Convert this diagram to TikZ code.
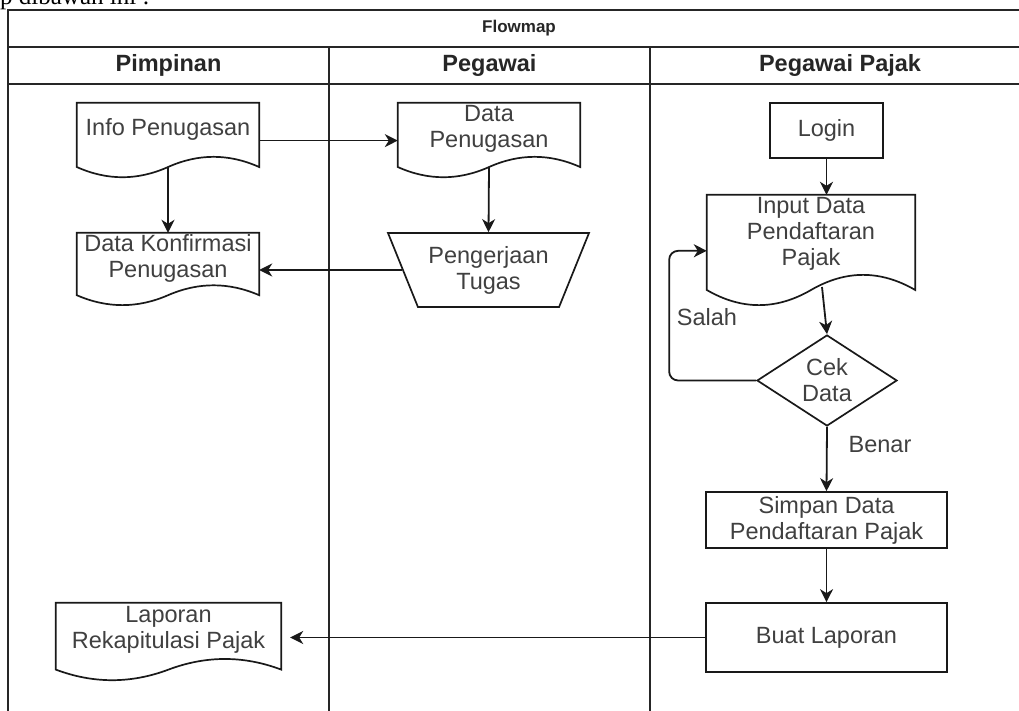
\documentclass[tikz,border=0pt]{standalone}
\usepackage{fontspec}
\setmainfont{Liberation Sans}
\newfontfamily\cutserif{Liberation Serif}
\usetikzlibrary{arrows.meta,shapes.geometric,calc}

% wavy document outline round a named node, plus three helper coordinates
\newcommand{\docwave}[1]{%
  \draw[outline] let \p1=(#1.north west), \p2=(#1.south east),
      \n1={(\y1-\y2)*3/7}, \n2={\x2-\x1} in
    (\x1,\y1) -- (\x2,\y1) -- (\x2,\y2-0.5*\n1)
    .. controls (\x1+5*\n2/6,\y2+0.1*\n1) and (\x1+2*\n2/3,\y2+0.1*\n1)
    .. (\x1+0.5*\n2,\y2-0.5*\n1) coordinate (#1-bot)
    .. controls (\x1+\n2/3,\y2-1.1*\n1) and (\x1+\n2/6,\y2-1.1*\n1)
    .. (\x1,\y2-0.5*\n1) -- cycle
    (\x2,{0.5*(\y1+\y2)-0.5*\n1}) coordinate (#1-e)
    (\x1,{0.5*(\y1+\y2)-0.5*\n1}) coordinate (#1-w);}

\begin{document}
\begin{tikzpicture}[x=1pt,y=-1pt]
  \tikzset{
    outline/.style = {draw=black!90, line width=1.7pt},
    lane/.style = {draw=black!85, line width=1.9pt},
    flow/.style = {draw=black!90, line width=1.8pt, -{Stealth[length=13pt,width=13pt,inset=4pt]}},
    txt/.style = {text=black!75, font=\fontsize{23.5}{26}\selectfont, align=center, inner sep=0pt},
    head/.style = {text=black!85, font=\bfseries\fontsize{23.5}{26}\selectfont},
    doc/.style = {txt, rectangle},
    box/.style = {txt, rectangle, outline},
  }
  \useasboundingbox (0,0) rectangle (1019,711);
  \clip (0,0) rectangle (1019,711);

  \node[anchor=base west, inner sep=0pt, font=\cutserif\fontsize{25}{28}\selectfont] (cut) at (0,4.5) {p dibawah ini :};

  % swimlanes
  \draw[lane] (8,720) -- (8,10) -- (1040,10);
  \draw[lane] (8,47) -- (1040,47);
  \draw[lane] (8,84) -- (1040,84);
  \draw[lane] (329,47) -- (329,720);
  \draw[lane] (650,47) -- (650,720);
  \node[head, font=\bfseries\fontsize{17}{20}\selectfont] (flowmap) at (519,28.5) {Flowmap};
  \node[head] (pimpinan) at (168.5,65.5) {Pimpinan};
  \node[head] (pegawai) at (489.5,65.5) {Pegawai};
  \node[head] (pajak) at (840,65.5) {Pegawai Pajak};

  % documents
  \node[doc, minimum width=182pt, minimum height=52.5pt] (info) at (168,129.25) {Info Penugasan};
  \node[doc, minimum width=182pt, minimum height=51pt] (konfirmasi) at (168,258.5) {Data Konfirmasi\\Penugasan};
  \node[doc, minimum width=182pt, minimum height=52.5pt] (penugasan) at (489,129.25) {Data\\Penugasan};
  \node[doc, minimum width=208pt, minimum height=78pt] (input) at (811,234) {Input Data\\Pendaftaran\\Pajak};
  \node[doc, minimum width=225pt, minimum height=54.6pt] (laporan) at (168.5,630.3) {Laporan\\Rekapitulasi Pajak};
  \foreach \d in {info,konfirmasi,penugasan,input,laporan}
    {\docwave{\d}}

  % processes
  \node[txt, trapezium, outline, shape border rotate=180, trapezium left angle=58,
        trapezium right angle=58, trapezium stretches body, minimum width=201pt,
        minimum height=74pt] (pengerjaan) at (488.5,270) {Pengerjaan\\Tugas};
  \node[box, minimum width=113pt, minimum height=55pt] (login) at (826.5,130.5) {Login};
  \node[txt, diamond, outline, aspect=1.54, minimum width=140pt, minimum height=91pt] (cek) at (827,380.5) {Cek\\Data};
  \node[box, minimum width=241pt, minimum height=56pt] (simpan) at (826.5,520) {Simpan Data\\Pendaftaran Pajak};
  \node[box, minimum width=241pt, minimum height=69pt] (buat) at (826.5,637.5) {Buat Laporan};

  \node[txt] (salah) at (707,317) {Salah};
  \node[txt] (benar) at (880,445) {Benar};

  % connectors
  \foreach \from/\to in {info-bot/konfirmasi.north,penugasan-bot/pengerjaan.north,cek.south/simpan.north,simpan.south/buat.north}
    \draw[flow] (\from) -- (\to);
  \draw[flow] (login.south) -- (login.south |- input.north);
  \draw[flow] ([xshift=11pt,yshift=3pt]input-bot) -- (cek.north);
  \draw[flow] (info-e) -- (penugasan-w);
  \draw[flow] (pengerjaan.west) -- (pengerjaan.west -| konfirmasi-e);
  \draw[flow, shorten >=9pt] (buat.west) -- (buat.west -| laporan-e);
  \draw[flow, rounded corners=9pt] (cek.west) -- ++(-87,0) |- (input-w);
\end{tikzpicture}
\end{document}
